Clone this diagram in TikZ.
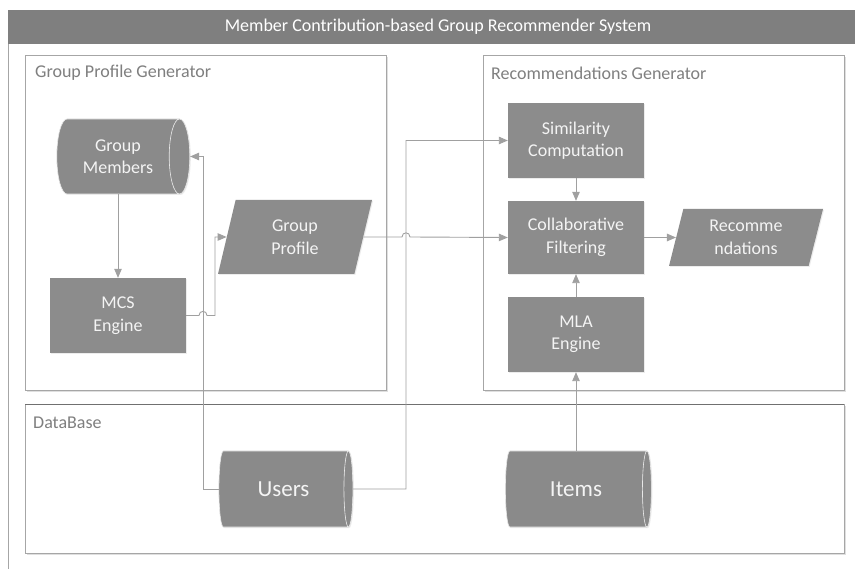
\documentclass[tikz,border=0pt]{standalone}
\usepackage{fontspec}
\setmainfont{Carlito}
\usetikzlibrary{shapes.geometric,arrows.meta,shadows,calc}
\definecolor{barfill}{HTML}{7F7F7F}
\definecolor{nodefill}{HTML}{8C8C8C}
\definecolor{framecol}{HTML}{A6A6A6}
\definecolor{topcol}{HTML}{707070}
\definecolor{linecol}{HTML}{A0A0A0}
\definecolor{labelcol}{HTML}{7F7F7F}
\definecolor{txtcol}{HTML}{F4F4F4}
\newcommand\gnfont{\fontsize{18}{22.5}\selectfont}
\newcommand\gbigfont{\fontsize{23}{28}\selectfont}
\begin{document}
\begin{tikzpicture}[x=1pt,y=-1pt,
  container/.style={draw=framecol, line width=1pt, fill=white,
    drop shadow={shadow xshift=1.5pt,shadow yshift=-1.5pt,opacity=0.25}},
  lbl/.style={font=\gnfont, text=labelcol, inner sep=0pt, anchor=west},
  shade/.style={drop shadow={shadow xshift=1pt,shadow yshift=-1pt,opacity=0.15}},
  procbox/.style={rectangle, fill=nodefill, shade, minimum width=136pt, minimum height=75pt,
    inner sep=0pt, align=center, text=txtcol, font=\gnfont},
  dbcyl/.style={cylinder, shape aspect=0.6, draw=white!80!nodefill, line width=0.6pt,
    cylinder uses custom fill, cylinder body fill=nodefill, cylinder end fill=nodefill,
    shade, inner sep=0pt, align=center, text=txtcol, font=\gbigfont},
  paraA/.style={trapezium, trapezium left angle=62.8, trapezium right angle=117.2,
    trapezium stretches body, fill=nodefill, shade, minimum width=154pt, minimum height=74pt,
    inner sep=0pt, align=center, text=txtcol, font=\gnfont},
  paraB/.style={trapezium, trapezium left angle=67.2, trapezium right angle=112.8,
    trapezium stretches body, fill=nodefill, shade, minimum width=154pt, minimum height=57pt,
    inner sep=0pt, align=center, text=txtcol, font=\gnfont},
  conn/.style={draw=linecol, line width=0.9pt},
  arr/.style={conn, -{Triangle[length=9pt,width=7.5pt]}}
]
\useasboundingbox (0,0) rectangle (855,569);
% outer frame
\fill[barfill] (8,10) rectangle (855,44);
\draw[framecol, line width=1pt] (8,44) -- (8,569);
\node[font=\gnfont, text=white, inner sep=0pt] (title) at (438,27) {Member Contribution-based Group Recommender System};

% containers
\draw[container] (25,56) rectangle (386,391);
\node[lbl] (gpglbl) at (35,73) {Group Profile Generator};
\draw[container] (483,56) rectangle (844,391);
\node[lbl] (rglbl) at (491,73) {Recommendations Generator};
\draw[container] (25,405) rectangle (844,553);
\draw[topcol, line width=1pt] (25,405) -- (844,405);
\node[lbl] (dblbl) at (33,423) {DataBase};

% nodes
\node[dbcyl, font=\gnfont, minimum height=133pt, minimum width=75pt] (gm) at (118,156.5) {Group\\Members};
\node[procbox] (mcs) at (118,315.5) {MCS\\Engine};
\node[paraA] (gp) at (295,237) {Group\\Profile};
\node[procbox] (sim) at (576,140.5) {Similarity\\Computation};
\node[procbox, minimum height=73pt] (cf) at (576,237.5) {Collaborative\\Filtering};
\node[procbox] (mla) at (576,334.5) {MLA\\Engine};
\node[paraB] (rec) at (746,237.5) {Recomme\\ndations};
\node[dbcyl, minimum height=134pt, minimum width=76pt] (users) at (283.5,489) {Users};
\node[dbcyl, minimum height=146pt, minimum width=76pt] (items) at (576,489) {Items};

\coordinate (uL) at (203,489);
\coordinate (uR) at (406,489);
\coordinate (gpx) at (215,315);

% connectors
\draw[arr] (users.west) -- (uL) -- (uL |- gm.east) -- (gm.east);
\draw[arr] (users.east) -- (uR) -- (uR |- sim.west) -- (sim.west);
\draw[arr] (gm.south -| mcs.north) -- (mcs.north);
\draw[arr] (mcs.east) -- ($(uL |- mcs.east)+(-4,0)$) .. controls +(0,-5.5) and +(0,-5.5) .. ($(uL |- mcs.east)+(4,0)$) -- (gpx |- mcs.east) -- (gpx |- gp.west) -- (gp.west);
\draw[arr] (gp.east) -- ($(uR |- gp.east)+(-4,0)$) .. controls +(0,-5.5) and +(0,-5.5) .. ($(uR |- gp.east)+(4,0)$) -- (cf.west);
\draw[arr] (sim.south) -- (cf.north);
\draw[arr] (mla.north) -- (cf.south);
\draw[arr] (items.north -| mla.south) -- (mla.south);
\draw[arr] (cf.east) -- (rec.west);
\end{tikzpicture}
\end{document}
